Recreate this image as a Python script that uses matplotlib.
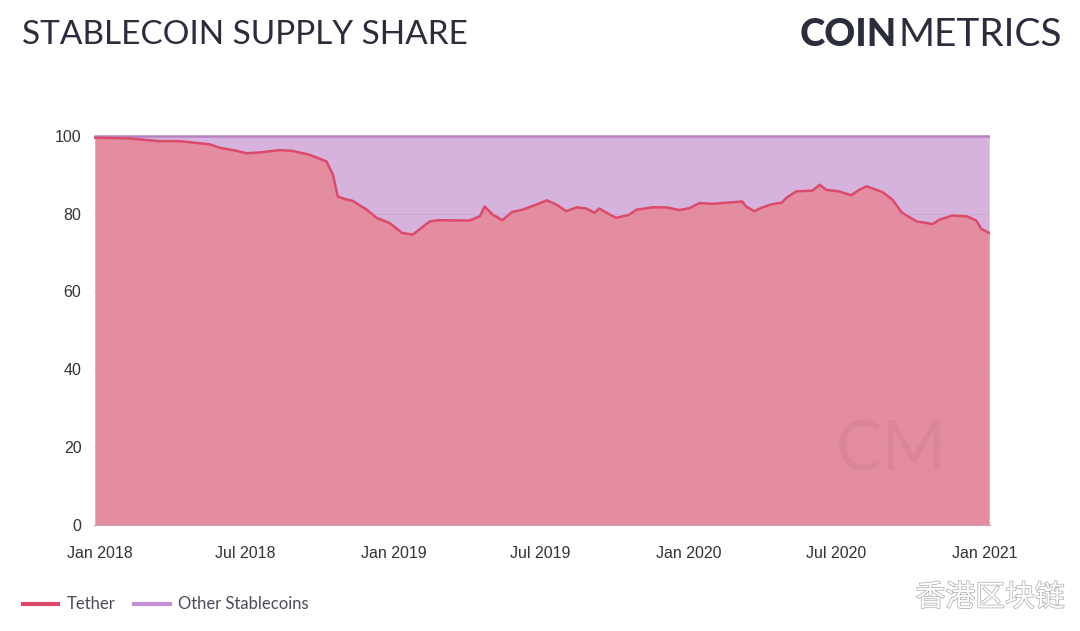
import numpy as np
import pandas as pd
import matplotlib.pyplot as plt
import matplotlib.dates as mdates
import matplotlib.patheffects as pe

# Tether share of stablecoin supply (%)
dates = [
    "2017-12-26", "2018-02-07", "2018-03-16", "2018-04-10", "2018-05-17", "2018-05-30",
    "2018-06-20", "2018-07-02", "2018-07-18", "2018-08-12", "2018-08-28", "2018-09-18",
    "2018-10-09", "2018-10-17", "2018-10-23", "2018-11-03", "2018-11-10", "2018-11-28",
    "2018-12-10", "2018-12-26", "2019-01-11", "2019-01-24", "2019-02-14", "2019-02-26",
    "2019-04-04", "2019-04-17", "2019-04-23", "2019-05-03", "2019-05-15", "2019-05-27",
    "2019-06-09", "2019-06-26", "2019-07-09", "2019-07-21", "2019-08-02", "2019-08-15",
    "2019-08-27", "2019-09-06", "2019-09-12", "2019-09-21", "2019-10-03", "2019-10-19",
    "2019-10-28", "2019-11-17", "2019-12-04", "2019-12-20", "2020-01-02", "2020-01-14",
    "2020-01-30", "2020-02-24", "2020-03-07", "2020-03-12", "2020-03-22", "2020-04-01",
    "2020-04-13", "2020-04-25", "2020-05-01", "2020-05-13", "2020-06-02", "2020-06-11",
    "2020-06-19", "2020-07-05", "2020-07-20", "2020-07-30", "2020-08-08", "2020-08-28",
    "2020-09-09", "2020-09-21", "2020-10-09", "2020-10-29", "2020-11-06", "2020-11-22",
    "2020-12-10", "2020-12-22", "2020-12-28", "2021-01-07",
]
tether = [
    99.5, 99.3, 98.6, 98.6, 97.8, 96.9,
    96.1, 95.5, 95.7, 96.3, 96.1, 95.1,
    93.4, 90.0, 84.4, 83.6, 83.3, 81.0,
    78.9, 77.6, 75.0, 74.6, 78.0, 78.3,
    78.2, 79.3, 81.8, 79.7, 78.3, 80.4,
    81.0, 82.3, 83.4, 82.3, 80.6, 81.6,
    81.3, 80.2, 81.3, 80.2, 78.9, 79.7,
    81.0, 81.6, 81.6, 80.9, 81.4, 82.7,
    82.5, 82.9, 83.1, 81.8, 80.6, 81.6,
    82.4, 82.8, 84.1, 85.7, 85.9, 87.4,
    86.1, 85.7, 84.7, 86.1, 87.0, 85.5,
    83.6, 80.2, 78.0, 77.3, 78.4, 79.5,
    79.3, 78.2, 76.1, 75.0,
]
total = [100.0] * len(tether)

x = pd.to_datetime(dates)
y = np.array(tether)

fig = plt.figure(figsize=(10.8, 6.31), dpi=100)
ax = fig.add_axes([0.087, 0.168, 0.8297, 0.62])

ax.fill_between(x, y, total, color="#d5b3dd", lw=0)
ax.fill_between(x, 0, y, color="#e48ca0", lw=0)
ax.plot(x, total, color="#b580c9", lw=1.8)
ax.plot(x, y, color="#dc4a6b", lw=1.8)

ax.set_xlim(pd.Timestamp("2017-12-25"), pd.Timestamp("2021-01-08"))
ax.set_ylim(0, 100.5)
ax.set_yticks([0, 20, 40, 60, 80, 100])
ax.grid(axis="y", color="#c98aa0", lw=0.6, alpha=0.35)
ax.set_axisbelow(False)

ax.xaxis.set_major_locator(mdates.MonthLocator(bymonth=[1, 7]))
ax.xaxis.set_major_formatter(mdates.DateFormatter("%b %Y"))
for s in ["top", "right", "left"]:
    ax.spines[s].set_visible(False)
ax.spines["bottom"].set_color("#c9a0b0")
ax.tick_params(length=0, labelsize=11.5, labelcolor="#333333")
ax.tick_params(axis="x", pad=15)
ax.tick_params(axis="y", pad=9)
for t in ax.get_xticklabels() + ax.get_yticklabels():
    t.set_family(["Liberation Sans", "DejaVu Sans"])

# faint CM watermark
ax.text(0.89, 0.19, "CM", transform=ax.transAxes, ha="center", va="center",
        fontsize=50, family="Lato", color="#b87090", alpha=0.22)

fig.text(0.02, 0.945, "STABLECOIN SUPPLY SHARE", fontsize=24, family="Lato",
         color="#2b2d3c", va="center")
fig.text(0.740, 0.945, "COIN", fontsize=27.5, family="Lato", fontweight="black",
         color="#2b2d3c", va="center")
fig.text(0.832, 0.945, "METRICS", fontsize=28, family="Lato", fontweight="normal",
         color="#2b2d3c", va="center")

# legend
fig.add_artist(plt.Line2D([0.021, 0.054], [0.043, 0.043], color="#dc4a6b", lw=3))
fig.text(0.062, 0.043, "Tether", fontsize=12, family="Lato", color="#4a4a5a", va="center")
fig.add_artist(plt.Line2D([0.124, 0.157], [0.043, 0.043], color="#c58fd6", lw=3))
fig.text(0.165, 0.043, "Other Stablecoins", fontsize=12, family="Lato", color="#4a4a5a",
         va="center")

fig.text(0.986, 0.053, "香港区块链", fontsize=21.5, family=["Noto Sans CJK SC", "DejaVu Sans"],
         color="white", ha="right", va="center",
         path_effects=[pe.withStroke(linewidth=1.0, foreground="#aaaaaa")])

fig.savefig("out.png", dpi=100, facecolor="white")
